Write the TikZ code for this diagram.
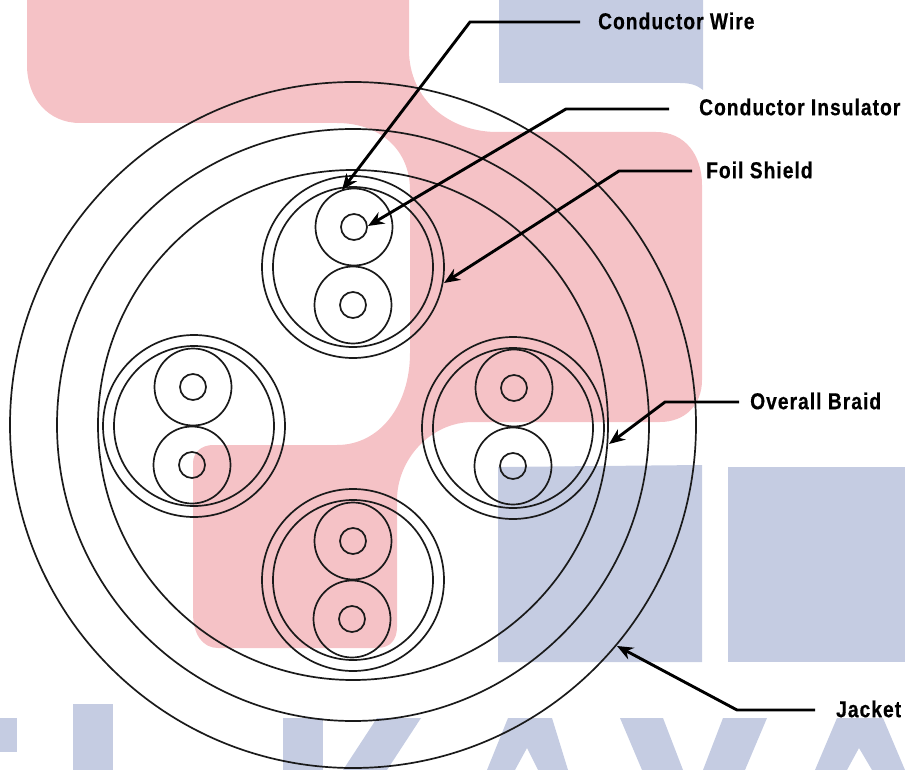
\documentclass[tikz,border=0pt]{standalone}
\usepackage{fontspec}
\usetikzlibrary{arrows.meta}
\newfontfamily\calloutfont{Liberation Sans}[FakeStretch=0.835,LetterSpace=4.5,BoldFeatures={FakeBold=0.5}]
\definecolor{markpink}{HTML}{F5C2C6}
\definecolor{markblue}{HTML}{C5CCE2}
\definecolor{wireline}{HTML}{1A1A1A}
\tikzset{
  sheath/.style={draw=wireline,line width=1.7pt},
  leader/.style={draw=black,line width=2.9pt,-{Stealth[length=16pt,width=13pt]}},
  callout/.style={anchor=west,inner sep=0pt,font=\calloutfont\bfseries\fontsize{23}{26}\selectfont}
}
\begin{document}
\begin{tikzpicture}[x=1pt,y=-1pt]
    \useasboundingbox (0,0) rectangle (905,770);

    % Drawing backdrop pink shape
    \fill [markpink] (27,0) -- (409,0) -- (409,50) .. controls (409,100) and (450,132) .. (497,132) -- (656,132) .. controls (685,132) and (702,155) .. (702,185) -- (702,380) .. controls (702,405) and (685,422) .. (660,422) -- (473,422) .. controls (430,422) and (397,460) .. (397,500) -- (397,627) .. controls (397,640) and (390,648) .. (377,648) -- (218,648) .. controls (203,648) and (193,635) .. (193,613) -- (193,463) .. controls (193,452) and (202,445) .. (213,445) -- (337,445) .. controls (380,445) and (410,405) .. (410,353) -- (410,190) .. controls (410,150) and (380,123) .. (337,123) -- (80,123) .. controls (48,123) and (27,98) .. (27,65) -- cycle;

    % Drawing backdrop blue blocks
    \fill [markblue] (499,0) -- (703,0) -- (703,90) .. controls (697,85) and (690,83) .. (680,83) -- (499,83) -- cycle;
    \fill [markblue] (498,467) -- (702,465) -- (702,662) -- (498,662) -- cycle;
    \fill [markblue] (728,467) -- (905,467) -- (905,662) -- (728,662) -- cycle;

    % Drawing backdrop letters
    \fill [markblue] (0,718) rectangle (17,752);
    \fill [markblue] (73,704) rectangle (113,770);
    \fill [markblue] (283,718) rectangle (323,770);
    \fill [markblue] (377,718) -- (421,718) -- (387,770) -- (343,770) -- cycle;
    \fill [markblue] (508,718) -- (552,718) -- (568,770) -- (538,770) -- (527,748) -- (515,770) -- (487,770) -- cycle;
    \fill [markblue] (620,718) -- (663,718) -- (683,770) -- (703,770) -- (723,718) -- (767,718) -- (745,770) -- (642,770) -- cycle;
    \fill [markblue] (837,718) -- (883,718) -- (905,770) -- (872,770) -- (859,748) -- (847,770) -- (815,770) -- cycle;

    % Drawing jacket, braid and outer insulation
    \draw [sheath] (353,425) circle (343);
    \draw [sheath] (353,425) circle (296);
    \draw [sheath] (353,425) circle (255);

    % Drawing top pair
    \draw [sheath] (353,267) circle (91);
    \draw [sheath] (353,267) circle (80);
    \draw [sheath] (354,227) circle (38.5);
    \draw [sheath] (354,227) circle (13);
    \draw [sheath] (353,305) circle (38.5);
    \draw [sheath] (353,305) circle (13);

    % Drawing left pair
    \draw [sheath] (194,426) circle (91);
    \draw [sheath] (194,426) circle (80);
    \draw [sheath] (193,387) circle (38.5);
    \draw [sheath] (193,387) circle (13);
    \draw [sheath] (192,465) circle (38.5);
    \draw [sheath] (192,465) circle (13);

    % Drawing right pair
    \draw [sheath] (513,428) circle (91);
    \draw [sheath] (513,428) circle (80);
    \draw [sheath] (514,388) circle (38.5);
    \draw [sheath] (514,388) circle (13);
    \draw [sheath] (513,466) circle (38.5);
    \draw [sheath] (513,466) circle (13);

    % Drawing bottom pair
    \draw [sheath] (353,580) circle (91);
    \draw [sheath] (353,580) circle (80);
    \draw [sheath] (353,541) circle (38.5);
    \draw [sheath] (353,541) circle (13);
    \draw [sheath] (352,619) circle (38.5);
    \draw [sheath] (352,619) circle (13);

    % Marking labels
    \node [callout] (wireLabel) at (598,21) {Conductor Wire};
    \node [callout] (insulatorLabel) at (699,107) {Conductor Insulator};
    \node [callout] (foilLabel) at (706,170) {Foil Shield};
    \node [callout] (braidLabel) at (750,401) {Overall Braid};
    \node [callout] (jacketLabel) at (836,709) {Jacket};

    % Marking bends and tips of leaders
    \coordinate (wireBend) at (470,22);
    \coordinate (wireTip) at (342,190);
    \coordinate (insulatorBend) at (566,109);
    \coordinate (insulatorTip) at (368,226);
    \coordinate (foilBend) at (619,171);
    \coordinate (foilTip) at (444,283);
    \coordinate (braidBend) at (665,402);
    \coordinate (braidTip) at (609,444);
    \coordinate (jacketBend) at (737,710);
    \coordinate (jacketTip) at (617,646);

    % Drawing leaders
    \draw [leader,shorten <=18pt] (wireLabel.west |- wireBend) -- (wireBend) -- (wireTip);
    \draw [leader,shorten <=30pt] (insulatorLabel.west |- insulatorBend) -- (insulatorBend) -- (insulatorTip);
    \draw [leader,shorten <=14pt] (foilLabel.west |- foilBend) -- (foilBend) -- (foilTip);
    \draw [leader,shorten <=11pt] (braidLabel.west |- braidBend) -- (braidBend) -- (braidTip);
    \draw [leader,shorten <=21pt] (jacketLabel.west |- jacketBend) -- (jacketBend) -- (jacketTip);
\end{tikzpicture}
\end{document}
